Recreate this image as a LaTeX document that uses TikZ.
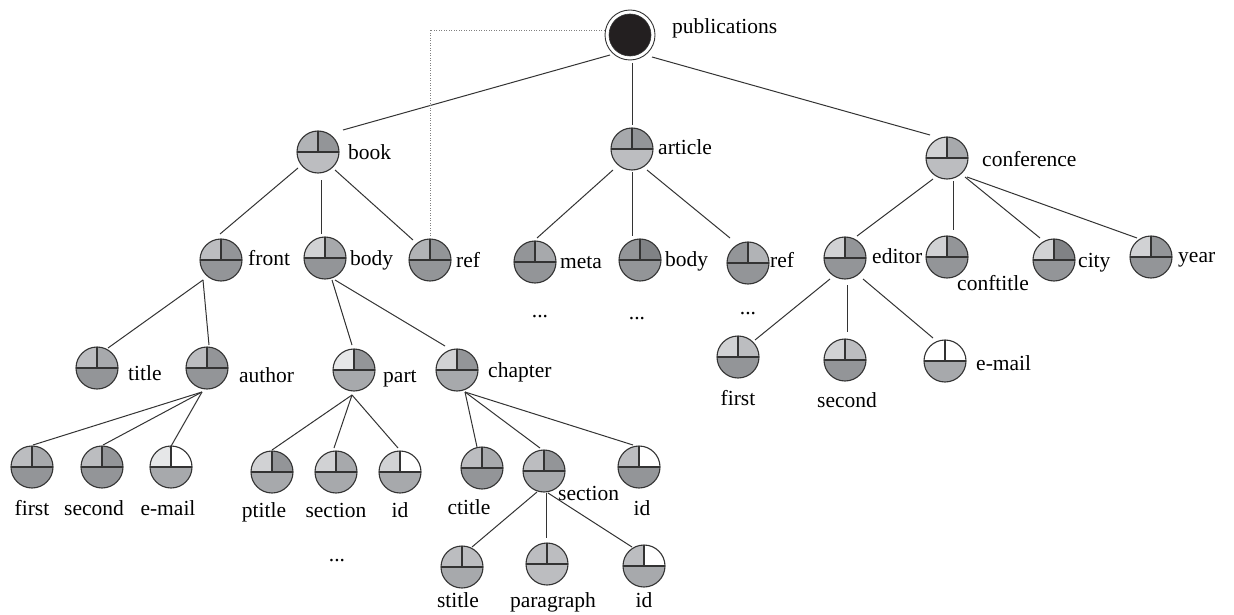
\documentclass[tikz,border=0pt]{standalone}
\usepackage{fontspec}
\setmainfont{Liberation Serif}
\usetikzlibrary{calc}
\definecolor{ln}{HTML}{333333}
\definecolor{cA}{HTML}{E6E7E8}
\definecolor{cB}{HTML}{D1D2D4}
\definecolor{cC}{HTML}{BCBDC0}
\definecolor{cG}{HTML}{B1B3B6}
\definecolor{cD}{HTML}{A7A9AC}
\definecolor{cE}{HTML}{939598}
\definecolor{cF}{HTML}{808285}
\definecolor{pubblack}{HTML}{231F20}
\tikzset{
  qc/.style={circle, minimum size=42pt, inner sep=0pt, draw=ln, line width=1.1pt},
  lab/.style={font=\fontsize{21.5}{24}\selectfont, text=black, inner sep=0pt},
  edge/.style={draw=ln, line width=1pt},
  dotline/.style={draw=gray, line width=0.9pt, dash pattern=on 1pt off 1.5pt},
}
\newcommand\qn[6]{\node[qc, path picture={
  \fill[#4] (path picture bounding box.center) rectangle (path picture bounding box.north west);
  \fill[#5] (path picture bounding box.center) rectangle (path picture bounding box.north east);
  \fill[#6] (path picture bounding box.west) rectangle (path picture bounding box.south east);
  \draw[ln, line width=1.5pt] (path picture bounding box.west) -- (path picture bounding box.east)
     (path picture bounding box.center) -- (path picture bounding box.north);
}] (#1) at (#2,#3) {};}
\begin{document}
\begin{tikzpicture}[x=1pt,y=-1pt]
\useasboundingbox (0,0) rectangle (1234,615);
\fill[white] (0,0) rectangle (1234,615);
% root
\node[circle, minimum size=50pt, inner sep=0pt, draw=ln, line width=0.9pt, fill=white] (pub) at (630,35) {};
\node[circle, minimum size=42pt, inner sep=0pt, fill=pubblack, draw=ln, line width=0.6pt] (pubin) at (pub) {};
% level 1
\qn{book}{318}{152}{cG}{cE}{cC}
\qn{article}{632}{149}{cD}{cE}{cC}
\qn{conf}{947}{158}{cB}{cD}{cC}
% level 2
\qn{front}{221}{260}{cC}{cE}{cE}
\qn{bodyB}{325}{258}{cB}{cD}{cE}
\qn{refB}{430}{260}{cG}{cE}{cE}
\qn{meta}{535}{262}{cE}{cD}{cE}
\qn{bodyA}{640}{260}{cE}{cF}{cE}
\qn{refA}{748}{263}{cE}{cG}{cE}
\qn{editor}{845}{258}{cB}{cE}{cE}
\qn{conftitle}{947}{257}{cB}{cE}{cE}
\qn{city}{1054}{260}{cB}{cF}{cE}
\qn{year}{1151}{257}{cB}{cE}{cE}
% level 3
\qn{title}{97}{368}{cC}{cD}{cE}
\qn{author}{207}{368}{cC}{cE}{cE}
\qn{part}{354}{370}{cA}{cE}{cD}
\qn{chapter}{457}{370}{cB}{cE}{cD}
\qn{firstE}{738}{357}{cB}{cC}{cE}
\qn{secondE}{845}{360}{cB}{cC}{cE}
\qn{emailE}{945}{361}{white}{white}{cD}
% level 4
\qn{firstA}{32}{467}{cC}{cD}{cE}
\qn{secondA}{102}{467}{cC}{cE}{cE}
\qn{emailA}{171}{467}{cA}{white}{cD}
\qn{ptitle}{272}{472}{cB}{cE}{cD}
\qn{sectionP}{336}{472}{cB}{cD}{cD}
\qn{idP}{400}{472}{cB}{white}{cD}
\qn{ctitle}{482}{468}{cC}{cD}{cE}
\qn{sectionC}{544}{471}{cC}{cE}{cD}
\qn{idC}{639}{467}{cC}{white}{cE}
% level 5
\qn{stitle}{462}{567}{cC}{cC}{cD}
\qn{paragraph}{547}{564}{cC}{cC}{cC}
\qn{idS}{644}{566}{cC}{white}{cD}
% labels
\node[lab, anchor=base west] (pubL) at (672,34) {publications};
\node[lab, anchor=base west] (bookL) at (348,160) {book};
\node[lab, anchor=base west] (articleL) at (658,154) {article};
\node[lab, anchor=base west] (confL) at (982,167) {conference};
\node[lab, anchor=base west] (frontL) at (248,265) {front};
\node[lab, anchor=base west] (bodyBL) at (350,265) {body};
\node[lab, anchor=base west] (refBL) at (456,267) {ref};
\node[lab, anchor=base west] (metaL) at (560,268) {meta};
\node[lab, anchor=base west] (bodyAL) at (665,266) {body};
\node[lab, anchor=base west] (refAL) at (770,267) {ref};
\node[lab, anchor=base west] (editorL) at (872,263) {editor};
\node[lab, anchor=base west] (conftitleL) at (957,290) {conftitle};
\node[lab, anchor=base west] (cityL) at (1078,267) {city};
\node[lab, anchor=base west] (yearL) at (1178,262) {year};
\node[lab, anchor=base west] (titleL) at (128,380) {title};
\node[lab, anchor=base west] (authorL) at (239,382) {author};
\node[lab, anchor=base west] (partL) at (383,382) {part};
\node[lab, anchor=base west] (chapterL) at (488,377) {chapter};
\node[lab, anchor=base] (firstAL) at (32,515) {first};
\node[lab, anchor=base] (secondAL) at (94,515) {second};
\node[lab, anchor=base] (emailAL) at (168,515) {e-mail};
\node[lab, anchor=base] (ptitleL) at (264,517) {ptitle};
\node[lab, anchor=base] (sectionPL) at (336,517) {section};
\node[lab, anchor=base] (idPL) at (400,517) {id};
\node[lab, anchor=base] (dotsP) at (337,561) {...};
\node[lab, anchor=base] (ctitleL) at (469,514) {ctitle};
\node[lab, anchor=base west] (sectionCL) at (558,500) {section};
\node[lab, anchor=base] (idCL) at (642,515) {id};
\node[lab, anchor=base] (stitleL) at (458,607) {stitle};
\node[lab, anchor=base] (paragraphL) at (553,607) {paragraph};
\node[lab, anchor=base] (idSL) at (644,607) {id};
\node[lab, anchor=base] (firstEL) at (738,405) {first};
\node[lab, anchor=base] (secondEL) at (847,407) {second};
\node[lab, anchor=base west] (emailEL) at (976,370) {e-mail};
\node[lab, anchor=base] (dotsM) at (540,317) {...};
\node[lab, anchor=base] (dotsB) at (637,319) {...};
\node[lab, anchor=base] (dotsR) at (748,314) {...};
% edges
\draw[edge] ($(pub)+(-20,20)$) -- ($(book)+(25,-22)$);
\draw[edge] ($(pub)+(2,28)$) -- ($(article)+(0,-24)$);
\draw[edge] ($(pub)+(22,22)$) -- ($(conf)+(-17,-23)$);
\draw[edge] ($(book)+(-20,16)$) -- ($(front)+(-1,-26)$);
\draw[edge] ($(book)+(3,28)$) -- ($(bodyB)+(-4,-24)$);
\draw[edge] ($(book)+(17,18)$) -- ($(refB)+(-17,-20)$);
\draw[edge] ($(front)+(-18,20)$) -- ($(title)+(11,-20)$);
\draw[edge] ($(front)+(-18,20)$) -- ($(author)+(2,-23)$);
\draw[edge] ($(author)+(-5,24)$) -- ($(firstA)+(1,-22)$);
\draw[edge] ($(author)+(-5,24)$) -- ($(secondA)+(1,-22)$);
\draw[edge] ($(author)+(-5,24)$) -- ($(emailA)+(-1,-19)$);
\draw[edge] ($(bodyB)+(7,22)$) -- ($(part)+(-2,-25)$);
\draw[edge] ($(bodyB)+(10,22)$) -- ($(chapter)+(-12,-24)$);
\draw[edge] ($(part)+(-2,25)$) -- ($(ptitle)+(0,-22)$);
\draw[edge] ($(part)+(-2,25)$) -- ($(sectionP)+(-2,-24)$);
\draw[edge] ($(part)+(-2,25)$) -- ($(idP)+(-2,-24)$);
\draw[edge] ($(chapter)+(8,22)$) -- ($(ctitle)+(-5,-21)$);
\draw[edge] ($(chapter)+(8,22)$) -- ($(sectionC)+(-4,-23)$);
\draw[edge] ($(chapter)+(8,22)$) -- ($(idC)+(-6,-22)$);
\draw[edge] ($(sectionC)+(-7,21)$) -- ($(stitle)+(10,-20)$);
\draw[edge] ($(sectionC)+(2,22)$) -- ($(paragraph)+(-1,-26)$);
\draw[edge] ($(sectionC)+(4,22)$) -- ($(idS)+(-12,-19)$);
\draw[edge] ($(article)+(-19,21)$) -- ($(meta)+(2,-24)$);
\draw[edge] ($(article)+(0,23)$) -- ($(bodyA)+(-8,-24)$);
\draw[edge] ($(article)+(15,21)$) -- ($(refA)+(-18,-25)$);
\draw[edge] ($(conf)+(-14,21)$) -- ($(editor)+(12,-22)$);
\draw[edge] ($(conf)+(6,23)$) -- ($(conftitle)+(6,-27)$);
\draw[edge] ($(conf)+(18,19)$) -- ($(city)+(-14,-22)$);
\draw[edge] ($(conf)+(20,19)$) -- ($(year)+(-14,-19)$);
\draw[edge] ($(editor)+(-15,21)$) -- ($(firstE)+(17,-17)$);
\draw[edge] ($(editor)+(2,27)$) -- ($(secondE)+(2,-28)$);
\draw[edge] ($(editor)+(18,21)$) -- ($(emailE)+(-12,-23)$);
% dotted reference link
\draw[dotline] ($(pub.west)+(0,-5)$) -| ($(refB.north)+(0,-1)$);
\end{tikzpicture}
\end{document}
